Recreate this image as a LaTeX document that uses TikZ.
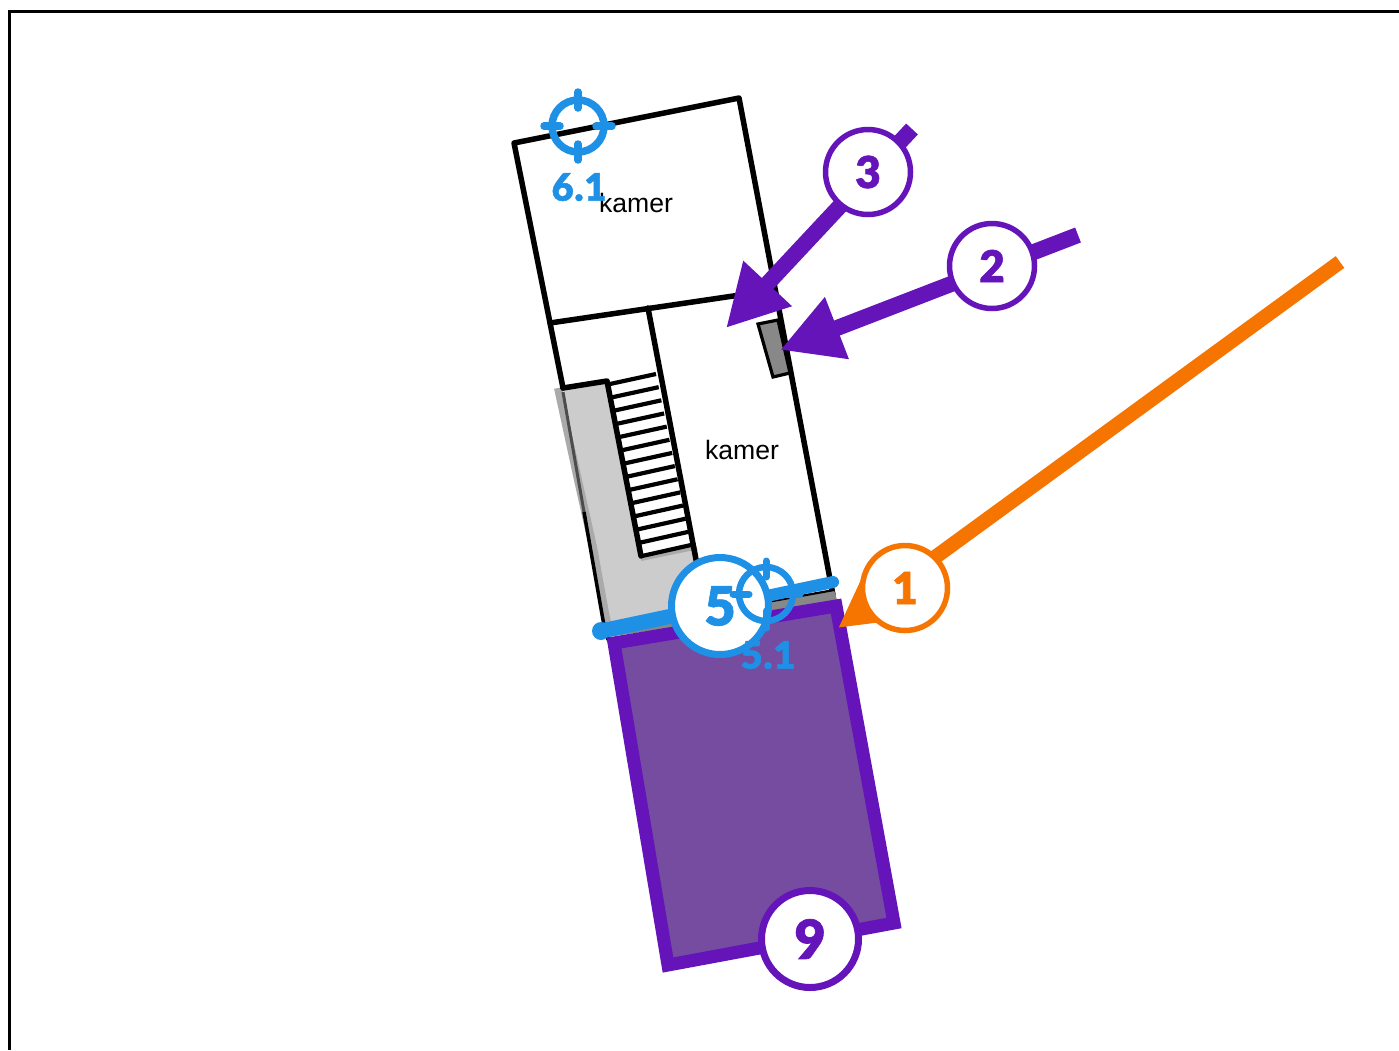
\documentclass[tikz,border=0pt]{standalone}
\usepackage{fontspec}
\setmainfont{Liberation Sans}
\newfontfamily\numfont[FakeBold=1.3,LetterSpace=2]{Lato Black}
\usetikzlibrary{arrows.meta,calc}
\definecolor{pur}{RGB}{100,20,185}
\definecolor{purfill}{RGB}{118,76,160}
\definecolor{blu}{RGB}{30,145,230}
\definecolor{ora}{RGB}{245,117,0}
\definecolor{lgr}{RGB}{204,204,204}
\definecolor{mgr}{RGB}{170,170,170}
\definecolor{dgr}{RGB}{136,136,136}
\tikzset{
  wall/.style={draw=black,line width=5.5pt,line join=round,line cap=round},
  tread/.style={draw=black,line width=4.2pt},
  arrowline/.style={line width=16pt,draw=#1,-{Triangle[length=61pt,width=62pt,fill=#1]}},
  badge/.style={circle,draw=#1,text=#1,fill=white,inner sep=0pt,font=\numfont},
  smallbadge/.style={badge=#1,line width=5.5pt,minimum size=85pt,font=\numfont\fontsize{44}{44}\selectfont},
  bigbadge/.style={badge=#1,line width=7pt,minimum size=97pt,font=\numfont\fontsize{54}{54}\selectfont},
  roomlabel/.style={font=\fontsize{26.6}{27}\selectfont,text=black},
  marklabel/.style={text=blu,font=\numfont\fontsize{38}{38}\selectfont},
  ring/.style={circle,draw=blu,line width=7.5pt,minimum size=52pt,inner sep=0pt},
  tick/.style={draw=blu,line width=7.5pt,line cap=round},
}
\begin{document}
\begin{tikzpicture}[x=1pt,y=-1pt]
\useasboundingbox (0,0) rectangle (1399,1050);
\fill[white] (0,0) rectangle (1399,1050);
% frame
\draw[black,line width=3pt] (9,1050) -- (9,11) -- (1399,11);
% grey zone
\fill[lgr] (563,388) -- (607,381) -- (641,557) -- (697,546) -- (699,570) -- (680,600) -- (668,625) -- (610,632) -- (590,520) -- cycle;
\draw[mgr,line width=4pt] (641,559) -- (694,548);
% walls
\draw[mgr,line width=8pt] (558,388) -- (578,480) -- (593,547) -- (605,613) -- (609,632);
\draw[black!70,line width=3pt] (563,392) -- (584,512);
\draw[black,line width=3.5pt] (584,512) -- (603,620) -- (608,640);
\draw[wall] (563,388) -- (550,323) -- (514,143) -- (739,98) -- (833,595);
\draw[wall] (550,323) -- (774,290);
\draw[wall] (648,308) -- (698,570);
\draw[wall] (563,388) -- (607,381) -- (641,556);
% stairs
\foreach \t in {0,1,...,13}{
  \draw[tread] ($(610,384)!\t/13!(642,556)$) -- ($(656,374)!\t/13!(691,545)$);
}
% small grey box
\draw[black,fill=dgr,line width=3.2pt,line join=miter] (758,324) -- (778,320) -- (790,373) -- (773,377) -- cycle;
% grey strip and purple area
\fill[dgr] (608,637) -- (610,628) -- (834,590) -- (838,603) -- cycle;
\draw[black,line width=2.2pt] (610,630) -- (834,590);
\draw[pur,fill=purfill,line width=13pt,line join=miter] (614,643) -- (836,606) -- (894,923) -- (668,965) -- cycle;
% named anchors
\coordinate (s1) at (1340,262);
\coordinate (t1) at (838,628);
\coordinate (s2) at (1078,235);
\coordinate (t2) at (780,350);
\coordinate (s3) at (912,129);
\coordinate (t3) at (726,328);
\coordinate (d1) at (601,631);
\coordinate (d2) at (833,582);
% connectors
\draw[arrowline=ora,line width=14.5pt] (s1) -- (t1);
\draw[arrowline=pur] (s2) -- (t2);
\draw[arrowline=pur] (s3) -- (t3);
\draw[blu,line width=12pt,line cap=round] (d1) -- (d2);
\draw[blu,line width=15pt,line cap=round] (d1) -- ($(d1)!0.3!(d2)$);
\fill[blu] (d1) circle[radius=9pt];
% badges
\node[smallbadge=ora] (n1) at (905,588) {1};
\node[smallbadge=pur] (n2) at (992,266) {2};
\node[smallbadge=pur] (n3) at (868,172) {3};
\node[bigbadge=blu] (n5) at (720,606) {5};
\node[bigbadge=pur] (n9) at (810,939) {9};
% room labels
\node[roomlabel] (k1) at (636,203) {kamer};
\node[roomlabel] (k2) at (742,450) {kamer};
% crosshair 6.1
\node[ring] (c6) at (578,126) {};
\draw[tick] (578,92) -- (578,108);
\draw[tick] (578,144) -- (578,160);
\draw[tick] (544,126) -- (560,126);
\draw[tick] (596,126) -- (612,126);
\node[marklabel] (l6) at (579,187) {6.1};
% crosshair 5.1
\node[ring,line width=6.5pt,minimum size=54pt] (c5) at (766,594) {};
\draw[tick,line width=7pt] (766,561) -- (766,577);
\draw[tick,line width=7pt] (766,611) -- (766,628);
\draw[tick,line width=7pt] (733,594) -- (749,594);
\draw[tick,line width=7pt] (783,594) -- (800,594);
\node[marklabel] (l5) at (768,655) {5.1};
\end{tikzpicture}
\end{document}
